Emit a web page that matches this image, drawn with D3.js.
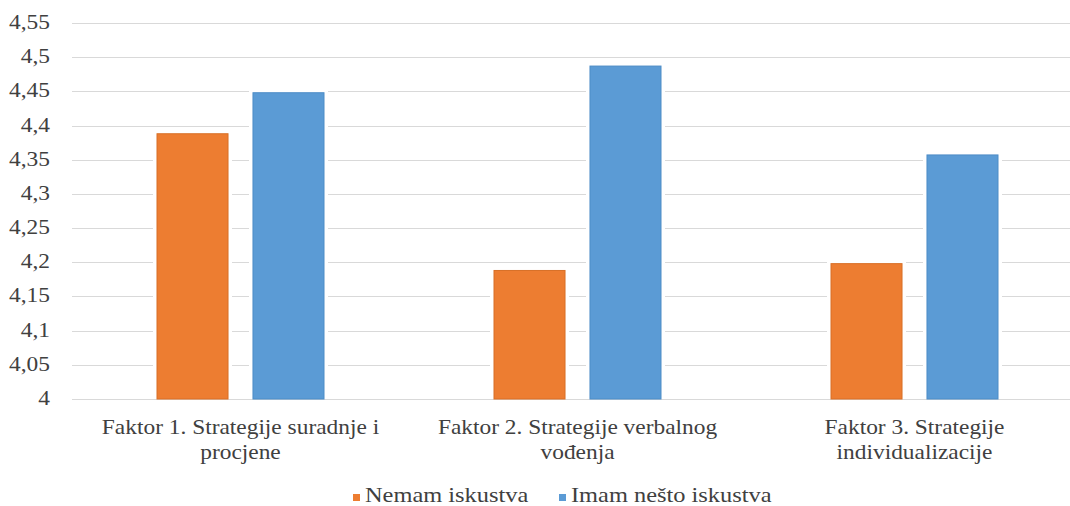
<!DOCTYPE html>
<html>
<head>
<meta charset="utf-8">
<script src="https://cdn.jsdelivr.net/npm/d3@7"></script>
<style>
  body { margin: 0; background: #fff; }
  text { font-family: "Liberation Serif", "Times New Roman", serif; fill: #404040; }
</style>
</head>
<body>
<div id="chart"></div>
<script>
// data
var categories = ["Faktor 1. Strategije suradnje i procjene",
                  "Faktor 2. Strategije verbalnog vođenja",
                  "Faktor 3. Strategije individualizacije"];
var categoryLines = [["Faktor 1. Strategije suradnje i", "procjene"],
                     ["Faktor 2. Strategije verbalnog", "vođenja"],
                     ["Faktor 3. Strategije", "individualizacije"]];
var seriesNames = ["Nemam iskustva", "Imam nešto iskustva"];
var nemam = [4.388, 4.188, 4.198];
var imam = [4.448, 4.487, 4.357];
var yTicks = [4, 4.05, 4.1, 4.15, 4.2, 4.25, 4.3, 4.35, 4.4, 4.45, 4.5, 4.55];

var colors = ["#ED7D31", "#5B9BD5"];
var strokes = ["#d86f27", "#4d8cc6"];

// the reference text looks a bit stretched sideways
var stretch = 1.17;
var fontSize = 20;

var totalW = 1070, totalH = 506;
var margin = {left: 72, right: 1083, top: 23, bottom: 399};

var svg = d3.select("#chart")
  .append("svg")
    .attr("width", totalW)
    .attr("height", totalH);

var data = categories.map(function(c, i) {
  return { cat: c, lines: categoryLines[i], values: [nemam[i], imam[i]] };
});

// X scales
var x = d3.scaleBand()
  .domain(categories)
  .range([margin.left, margin.right]);

var groupW = 167;
var x1 = d3.scaleBand()
  .domain([0, 1])
  .range([0, groupW])
  .paddingInner(0.26);

// Y scale
var y = d3.scaleLinear()
  .domain([4, 4.55])
  .range([margin.bottom, margin.top]);

// gridlines
svg.append("g")
  .selectAll("line")
  .data(yTicks)
  .enter()
  .append("line")
    .attr("x1", margin.left)
    .attr("x2", totalW)
    .attr("y1", function(d) { return Math.round(y(d)) + 0.5; })
    .attr("y2", function(d) { return Math.round(y(d)) + 0.5; })
    .attr("stroke", "#d9d9d9")
    .attr("stroke-width", 1.2);

// y labels
svg.append("g")
  .selectAll("g")
  .data(yTicks)
  .enter()
  .append("g")
    .attr("transform", function(d) { return "translate(50," + (y(d) + 6) + ") scale(" + stretch + ",1)"; })
  .append("text")
    .attr("text-anchor", "end")
    .style("font-size", fontSize + "px")
    .text(function(d) { return String(+d.toFixed(2)).replace(".", ","); });

// bars
var groups = svg.selectAll("g.grp")
  .data(data)
  .enter()
  .append("g")
    .attr("class", "grp")
    .attr("transform", function(d) {
      return "translate(" + (x(d.cat) + (x.bandwidth() - groupW) / 2) + ",0)";
    });

// white halo round the bars, like the gap in the gridlines
groups.selectAll("rect.halo")
  .data(function(d) { return d.values.map(function(v, i) { return { v: v, s: i }; }); })
  .enter()
  .append("rect")
    .attr("class", "halo")
    .attr("x", function(d) { return x1(d.s) - 4; })
    .attr("y", function(d) { return y(d.v) - 4; })
    .attr("width", x1.bandwidth() + 8)
    .attr("height", function(d) { return y(4) - y(d.v) + 3; })
    .attr("fill", "#fff");

groups.selectAll("rect.bar")
  .data(function(d) { return d.values.map(function(v, i) { return { v: v, s: i }; }); })
  .enter()
  .append("rect")
    .attr("class", "bar")
    .attr("x", function(d) { return x1(d.s); })
    .attr("y", function(d) { return y(d.v); })
    .attr("width", x1.bandwidth())
    .attr("height", function(d) { return y(4) - y(d.v); })
    .attr("fill", function(d) { return colors[d.s]; })
    .attr("stroke", function(d) { return strokes[d.s]; })
    .attr("stroke-width", 1);

// category labels
var catLabels = svg.append("g")
  .selectAll("g")
  .data(data)
  .enter()
  .append("g")
    .attr("transform", function(d) {
      return "translate(" + (x(d.cat) + x.bandwidth() / 2) + ",434) scale(" + stretch + ",1)";
    })
  .append("text")
    .attr("text-anchor", "middle")
    .style("font-size", fontSize + "px");

catLabels.selectAll("tspan")
  .data(function(d) { return d.lines; })
  .enter()
  .append("tspan")
    .attr("x", 0)
    .attr("dy", function(d, i) { return i === 0 ? 0 : 25; })
    .text(function(d) { return d; });

// legend
var legendX = [353, 559];
var legend = svg.append("g")
  .selectAll("g")
  .data(seriesNames)
  .enter()
  .append("g")
    .attr("transform", function(d, i) { return "translate(" + legendX[i] + ",502)"; });

legend.append("rect")
  .attr("x", 0)
  .attr("y", -8)
  .attr("width", 7)
  .attr("height", 7)
  .attr("fill", function(d, i) { return colors[i]; });

legend.append("g")
  .attr("transform", "translate(12,0) scale(1.22,1)")
  .append("text")
    .style("font-size", fontSize + "px")
    .text(function(d) { return d; });
</script>
</body>
</html>
